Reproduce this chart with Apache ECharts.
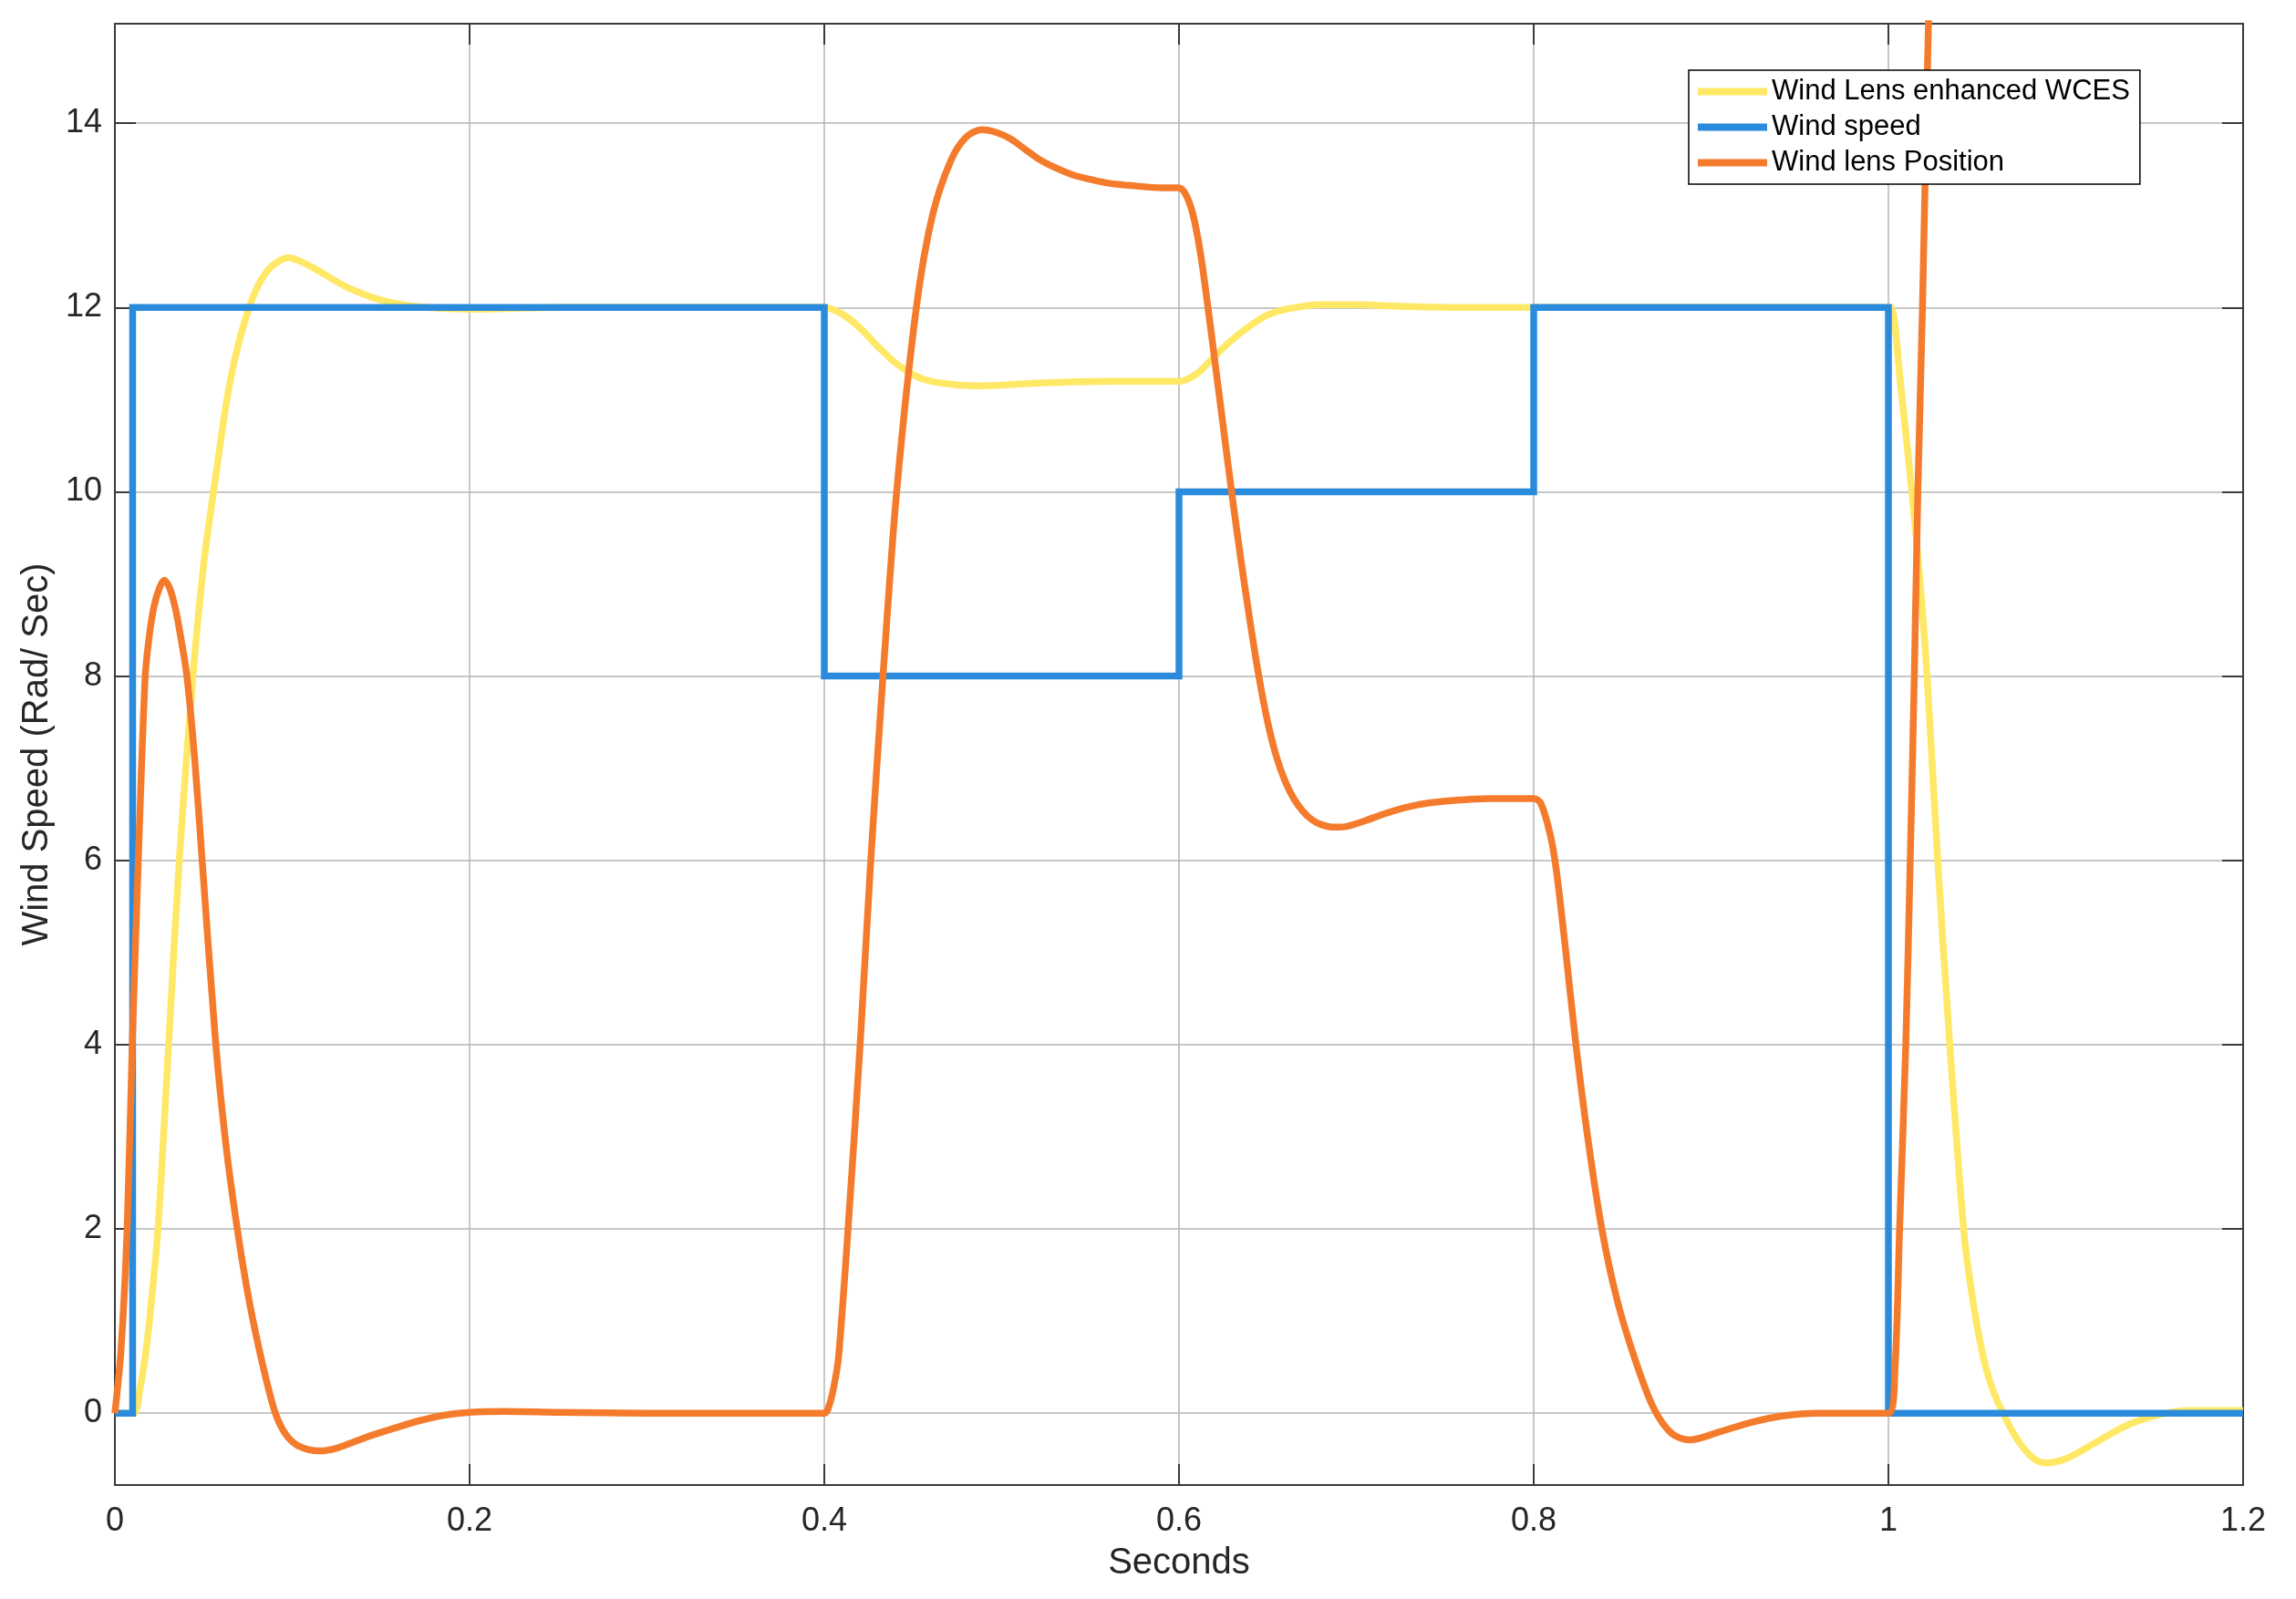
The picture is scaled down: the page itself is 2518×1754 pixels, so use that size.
<!DOCTYPE html>
<html>
<head>
<meta charset="utf-8">
<title>Wind Speed</title>
<script src="https://cdn.jsdelivr.net/npm/echarts@6/dist/echarts.min.js"></script>
<style>
  html, body { margin: 0; padding: 0; background: #fff; }
  #chart { width: 2518px; height: 1754px; }
</style>
</head>
<body>
<div id="chart"></div>
<script>
// axis ticks
const xTicks = [0, 0.2, 0.4, 0.6, 0.8, 1, 1.2]
const yTicks = [0, 2, 4, 6, 8, 10, 12, 14]

// Wind speed (step input)
const windTimes = [0, 0.01, 0.4, 0.6, 0.8, 1.0, 1.2]
const windValues = [0, 12, 8, 10, 12, 0, 0]

// Wind Lens enhanced WCES
const wcesTimes = [0, 0.0106, 0.014, 0.017, 0.02, 0.0243, 0.0303, 0.0363, 0.044, 0.05, 0.056, 0.065, 0.0757, 0.086, 0.098, 0.11, 0.13, 0.15, 0.17, 0.2, 0.25, 0.3, 0.4, 0.41, 0.42, 0.43, 0.44, 0.45, 0.46, 0.475, 0.49, 0.52, 0.56, 0.6, 0.61, 0.62, 0.63, 0.64, 0.65, 0.66, 0.68, 0.7, 0.73, 0.76, 0.8, 0.9, 1.0, 1.0015, 1.0072, 1.0132, 1.0175, 1.0218, 1.0278, 1.0346, 1.0424, 1.047, 1.0527, 1.058, 1.0646, 1.0732, 1.0817, 1.0886, 1.1006, 1.1177, 1.1348, 1.152, 1.169, 1.2]
const wcesValues = [0, 0, 0.25, 0.6, 1.1, 2, 4, 6, 8, 9.2, 10.05, 11.2, 12, 12.4, 12.54, 12.45, 12.23, 12.08, 12.01, 11.98, 12, 12, 12, 11.93, 11.78, 11.58, 11.4, 11.27, 11.2, 11.16, 11.15, 11.18, 11.2, 11.2, 11.28, 11.47, 11.65, 11.8, 11.92, 11.98, 12.03, 12.03, 12.01, 12.0, 12.0, 12.0, 12.0, 12.0, 11.1, 10, 9.1, 8, 6, 4, 2, 1.3, 0.68, 0.3, 0, -0.3, -0.49, -0.54, -0.49, -0.31, -0.13, -0.02, 0.03, 0.03]

// Wind lens Position
const lensTimes = [0, 0.0035, 0.0069, 0.0098, 0.0132, 0.0171, 0.0195, 0.022, 0.025, 0.0278, 0.031, 0.0345, 0.0375, 0.0406, 0.045, 0.0492, 0.0569, 0.063, 0.069, 0.074, 0.079, 0.0855, 0.0905, 0.096, 0.103, 0.1155, 0.125, 0.135, 0.145, 0.158, 0.172, 0.186, 0.2, 0.22, 0.25, 0.3, 0.4, 0.403, 0.4055, 0.408, 0.4134, 0.4202, 0.4262, 0.4331, 0.4408, 0.4519, 0.461, 0.4715, 0.48, 0.4888, 0.497, 0.505, 0.513, 0.521, 0.53, 0.54, 0.55, 0.56, 0.575, 0.59, 0.6, 0.604, 0.608, 0.612, 0.616, 0.62, 0.625, 0.63, 0.635, 0.64, 0.645, 0.65, 0.655, 0.66, 0.665, 0.67, 0.675, 0.68, 0.6876, 0.695, 0.705, 0.715, 0.727, 0.74, 0.755, 0.775, 0.8, 0.804, 0.8093, 0.8127, 0.8178, 0.8238, 0.8307, 0.8384, 0.847, 0.8572, 0.8675, 0.8778, 0.888, 0.9052, 0.9224, 0.94, 0.96, 1.0, 1.0037, 1.0063, 1.0098, 1.0123, 1.0146, 1.0166, 1.0192, 1.0214, 1.0226, 1.025]
const lensValues = [0, 0.7, 2, 4, 6, 8, 8.45, 8.75, 8.95, 9.04, 8.95, 8.7, 8.38, 8, 7.1, 6, 4, 2.85, 2, 1.4, 0.9, 0.35, 0, -0.22, -0.35, -0.41, -0.38, -0.31, -0.24, -0.16, -0.08, -0.02, 0.01, 0.02, 0.01, 0, 0, 0.1, 0.3, 0.6, 2, 4, 6, 8, 10, 12, 13, 13.6, 13.85, 13.93, 13.9, 13.83, 13.72, 13.61, 13.52, 13.44, 13.39, 13.35, 13.32, 13.3, 13.3, 13.22, 13.0, 12.6, 12.05, 11.45, 10.7, 9.95, 9.25, 8.6, 8.0, 7.5, 7.12, 6.85, 6.66, 6.53, 6.44, 6.39, 6.36, 6.37, 6.43, 6.5, 6.57, 6.62, 6.65, 6.67, 6.67, 6.62, 6.28, 5.9, 5.06, 4.0, 2.96, 2.0, 1.23, 0.58, 0.06, -0.22, -0.29, -0.2, -0.1, -0.03, 0, 0, 0.48, 2, 4, 6, 8, 10, 12, 14.05, 15.1, 17]

const zip = (xs, ys) => xs.map((x, i) => [x, ys[i]])

const FONT = '"Liberation Sans", Arial, Helvetica, sans-serif'
const boxColor = '#3a3a3a'
const gridColor = '#b4b4b4'

const chart = echarts.init(document.getElementById('chart'))

const option = {
  animation: false,
  backgroundColor: '#fff',
  textStyle: { fontFamily: FONT },
  grid: { left: 126, right: 58, top: 26, bottom: 125, containLabel: false },
  legend: {
    data: ['Wind Lens enhanced WCES', 'Wind speed', 'Wind lens Position'],
    orient: 'vertical',
    left: 1852,
    top: 77,
    icon: 'rect',
    itemWidth: 76,
    itemHeight: 8,
    itemGap: 8,
    padding: [8, 11, 8, 10],
    borderColor: '#000',
    borderWidth: 1.5,
    backgroundColor: '#fff',
    textStyle: { fontFamily: FONT, fontSize: 31, color: '#000', lineHeight: 31 }
  },
  xAxis: [
    {
      type: 'value',
      min: 0,
      max: 1.2,
      interval: 0.2,
      name: 'Seconds',
      nameLocation: 'middle',
      nameGap: 66,
      nameTextStyle: { fontSize: 40, color: '#262626', fontFamily: FONT },
      axisLine: { show: true, onZero: false, lineStyle: { color: boxColor, width: 2 } },
      axisTick: { show: true, inside: true, length: 23, lineStyle: { color: boxColor, width: 2 } },
      axisLabel: { margin: 22, fontSize: 36, color: '#262626', fontFamily: FONT, customValues: xTicks },
      splitLine: { show: true, lineStyle: { color: gridColor, width: 1.5 } }
    },
    {
      type: 'value',
      position: 'top',
      min: 0,
      max: 1.2,
      interval: 0.2,
      axisLine: { show: true, onZero: false, lineStyle: { color: boxColor, width: 2 } },
      axisTick: { show: true, inside: true, length: 23, lineStyle: { color: boxColor, width: 2 } },
      axisLabel: { show: false },
      splitLine: { show: false }
    }
  ],
  yAxis: [
    {
      type: 'value',
      min: -0.78,
      max: 15.08,
      name: 'Wind Speed (Rad/ Sec)',
      nameLocation: 'middle',
      nameGap: 59,
      nameTextStyle: { fontSize: 40, color: '#262626', fontFamily: FONT },
      axisLine: { show: true, onZero: false, lineStyle: { color: boxColor, width: 2 } },
      axisTick: { show: true, inside: true, length: 23, customValues: yTicks, lineStyle: { color: boxColor, width: 2 } },
      axisLabel: { margin: 14, fontSize: 36, color: '#262626', fontFamily: FONT, customValues: yTicks },
      splitLine: { show: true, lineStyle: { color: gridColor, width: 1.5 } }
    },
    {
      type: 'value',
      position: 'right',
      min: -0.78,
      max: 15.08,
      axisLine: { show: true, onZero: false, lineStyle: { color: boxColor, width: 2 } },
      axisTick: { show: true, inside: true, length: 23, customValues: yTicks, lineStyle: { color: boxColor, width: 2 } },
      axisLabel: { show: false },
      splitLine: { show: false }
    }
  ],
  series: [
    {
      name: 'Wind Lens enhanced WCES',
      type: 'line',
      data: zip(wcesTimes, wcesValues),
      symbol: 'none',
      smooth: 0.3,
      color: '#FFE865',
      lineStyle: { width: 7.5, color: '#FFE865' }
    },
    {
      name: 'Wind speed',
      type: 'line',
      step: 'end',
      data: zip(windTimes, windValues),
      symbol: 'none',
      color: '#2A8BDD',
      lineStyle: { width: 7.5, color: '#2A8BDD', join: 'miter' }
    },
    {
      name: 'Wind lens Position',
      type: 'line',
      data: zip(lensTimes, lensValues),
      symbol: 'none',
      smooth: 0.3,
      clip: true,
      color: '#F47B2C',
      lineStyle: { width: 7.5, color: '#F47B2C' }
    }
  ]
}

chart.setOption(option)
</script>
</body>
</html>
